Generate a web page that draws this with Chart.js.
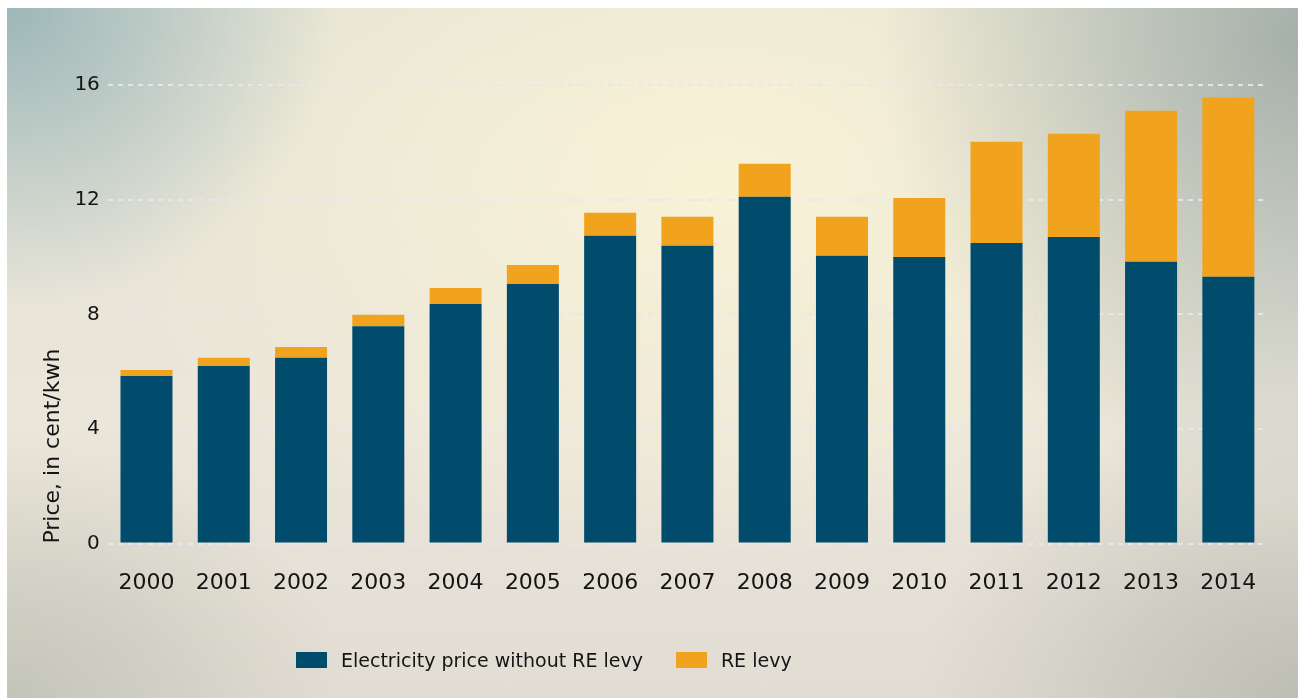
<!DOCTYPE html>
<html>
<head>
<meta charset="utf-8">
<script src="https://cdn.jsdelivr.net/npm/chart.js@4.4.1/dist/chart.umd.min.js"></script>
<style>
  html, body { margin: 0; padding: 0; background: #ffffff; width: 1298px; height: 698px; overflow: hidden; }
  #bg {
    position: absolute; left: 7px; top: 8px; width: 1291px; height: 690px;
    background:
      radial-gradient(ellipse 330px 300px at 0% 0%, rgba(140,172,178,0.8), rgba(140,172,178,0) 100%),
      radial-gradient(ellipse 420px 460px at 100% 5%, rgba(150,164,160,0.8), rgba(150,164,160,0) 100%),
      radial-gradient(ellipse 340px 260px at 0% 100%, rgba(185,188,175,0.75), rgba(185,188,175,0) 100%),
      radial-gradient(ellipse 380px 300px at 100% 100%, rgba(180,182,172,0.8), rgba(180,182,172,0) 100%),
      radial-gradient(ellipse 620px 380px at 55% 25%, #f8f2d6 0%, rgba(246,240,214,0.6) 55%, rgba(240,234,220,0) 100%),
      linear-gradient(180deg, #e3e2d4 0%, #ebe6da 60%, #e2ddd3 100%);
  }
  #wrap { position: absolute; left: 0; top: 0; width: 1298px; height: 698px; }
  #legend { position: absolute; left: 296px; top: 644px; height: 32px; display: flex; align-items: center;
            font-family: 'DejaVu Sans'; font-size: 19px; color: #141414; white-space: nowrap; }
  #legend .item { display: flex; align-items: center; margin-right: 33px; }
  #legend .box { width: 31px; height: 16px; margin-right: 14px; }
</style>
</head>
<body>
<div id="bg"></div>
<div id="wrap"><canvas id="c" width="1298" height="698"></canvas></div>
<div id="legend"></div>
<script>
const years = ['2000','2001','2002','2003','2004','2005','2006','2007','2008','2009','2010','2011','2012','2013','2014'];
const priceWithoutLevy = [5.85, 6.20, 6.48, 7.58, 8.36, 9.06, 10.74, 10.39, 12.10, 10.04, 10.00, 10.49, 10.70, 9.83, 9.31];
const reLevy = [0.21, 0.28, 0.38, 0.40, 0.56, 0.66, 0.80, 1.01, 1.15, 1.36, 2.06, 3.53, 3.60, 5.27, 6.25];
const yTicks = [0, 4, 8, 12, 16];
const seriesNames = ['Electricity price without RE levy', 'RE levy'];
const seriesColors = ['#014b6d', '#f1a31e'];
const axisTitle = 'Price, in cent/kwh';

const FONT = 'DejaVu Sans';
const ink = '#141414';

const chart = new Chart(document.getElementById('c'), {
  type: 'bar',
  data: {
    labels: years,
    datasets: [
      { label: seriesNames[0], data: priceWithoutLevy, backgroundColor: seriesColors[0], barPercentage: 0.673, categoryPercentage: 1 },
      { label: seriesNames[1], data: reLevy, backgroundColor: seriesColors[1], barPercentage: 0.673, categoryPercentage: 1 }
    ]
  },
  options: {
    responsive: false,
    animation: false,
    devicePixelRatio: 1,
    layout: { padding: { top: 85, right: 31, left: 40, bottom: 84 } },
    plugins: {
      tooltip: { enabled: false },
      legend: { display: false }
    },
    scales: {
      x: {
        stacked: true,
        grid: { display: false },
        border: { display: false },
        ticks: { font: { family: FONT, size: 22 }, color: ink, padding: 18, maxRotation: 0 }
      },
      y: {
        stacked: true,
        min: 0, max: 16,
        afterBuildTicks: (s) => { s.ticks = yTicks.map(v => ({ value: v })); },
        grid: { color: 'rgba(230,230,238,0.95)', lineWidth: 2, drawTicks: false },
        border: { display: false, dash: [5, 5] },
        ticks: { font: { family: FONT, size: 20 }, color: ink, padding: 8 },
        title: { display: true, text: axisTitle, align: 'start', font: { family: FONT, size: 22 }, color: ink, padding: { top: 0, bottom: 0 } }
      }
    }
  }
});

const legend = document.getElementById('legend');
chart.data.datasets.forEach(ds => {
  const item = document.createElement('div');
  item.className = 'item';
  const box = document.createElement('span');
  box.className = 'box';
  box.style.background = ds.backgroundColor;
  const txt = document.createElement('span');
  txt.textContent = ds.label;
  item.appendChild(box); item.appendChild(txt);
  legend.appendChild(item);
});
</script>
</body>
</html>
